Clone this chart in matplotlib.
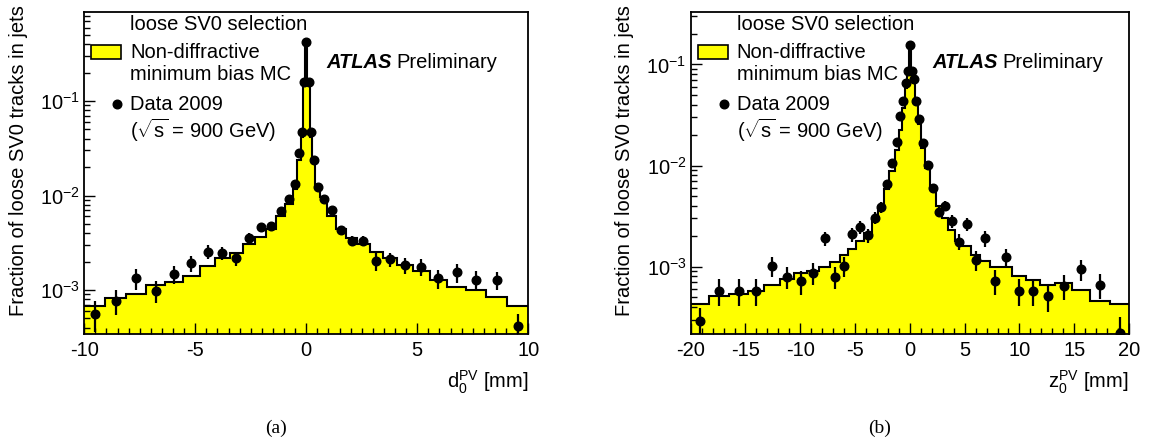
import matplotlib
matplotlib.use("Agg")
import matplotlib.pyplot as plt
import numpy as np
from matplotlib.patches import Rectangle
from matplotlib.lines import Line2D
from matplotlib.ticker import LogLocator, NullFormatter, MultipleLocator

plt.rcParams['font.family'] = ['Liberation Sans', 'DejaVu Sans']
plt.rcParams['mathtext.fontset'] = 'custom'
plt.rcParams['mathtext.rm'] = 'Liberation Sans'
plt.rcParams['mathtext.it'] = 'Liberation Sans:italic'
plt.rcParams['mathtext.bf'] = 'Liberation Sans:bold'

# ---------------- data: panel (a) d0 ----------------
d0_edges = [-10, -9.05, -8.1, -7.2, -6.35, -5.55, -4.8, -4.1, -3.45, -2.85, -2.3, -1.8,
            -1.35, -0.95, -0.62, -0.4, -0.25, -0.15, -0.05, 0.05, 0.15, 0.25, 0.4, 0.62,
            0.95, 1.35, 1.8, 2.3, 2.85, 3.45, 4.1, 4.8, 5.55, 6.35, 7.2, 8.1, 9.05, 10]
d0_mc = [6.8e-4, 8.2e-4, 9.1e-4, 1.12e-3, 1.21e-3, 1.42e-3, 1.81e-3, 2.16e-3, 2.48e-3,
         3.04e-3, 3.6e-3, 4.46e-3, 6.1e-3, 8.1e-3, 1.16e-2, 2.38e-2, 4.2e-2, 1.48e-1,
         4.2e-1,
         1.48e-1, 4.2e-2, 2.4e-2, 1.29e-2, 9.6e-3, 6.1e-3, 4.4e-3, 3.52e-3, 3.04e-3,
         2.54e-3, 2.16e-3, 1.84e-3, 1.6e-3, 1.28e-3, 1.08e-3, 1.0e-3, 8.5e-4, 6.8e-4]
d0_data = [5.57e-4, 7.7e-4, 1.33e-3, 9.8e-4, 1.48e-3, 1.92e-3, 2.54e-3, 2.48e-3, 2.16e-3,
           3.52e-3, 4.6e-3, 4.75e-3, 6.9e-3, 9.2e-3, 1.31e-2, 2.8e-2, 4.7e-2, 1.6e-1,
           4.2e-1,
           1.6e-1, 4.7e-2, 2.38e-2, 1.24e-2, 9.1e-3, 7.0e-3, 4.3e-3, 3.3e-3, 3.3e-3,
           2.03e-3, 2.11e-3, 1.84e-3, 1.77e-3, 1.33e-3, 1.54e-3, 1.28e-3, 1.28e-3, 4.19e-4]
d0_err = [2.0e-4, 2.3e-4, 3.3e-4, 2.6e-4, 3.1e-4, 3.8e-4, 4.3e-4, 4.0e-4, 3.7e-4,
          4.6e-4, 4.6e-4, 4.6e-4, 4.0e-4, 4.0e-4, 5e-4, 8e-4, 1.2e-3, 3e-3,
          5e-3,
          3e-3, 1.2e-3, 8e-4, 5e-4, 4e-4, 4e-4, 4.3e-4, 4e-4, 4e-4,
          4.3e-4, 3.6e-4, 3.5e-4, 3.5e-4, 3.1e-4, 3.4e-4, 3.1e-4, 2.8e-4, 1.4e-4]

# ---------------- data: panel (b) z0 ----------------
z0_edges = [-20, -18.3, -16.48, -14.79, -13.27, -11.88, -10.58, -9.36, -8.26, -7.3, -6.42,
            -5.62, -4.87, -4.15, -3.49, -2.89, -2.35, -1.86, -1.4, -1.0, -0.72, -0.48,
            -0.28, -0.1, 0.1, 0.28, 0.48, 0.72, 1.0, 1.4, 1.86, 2.35, 2.89, 3.49, 4.15,
            4.87, 5.62, 6.42, 7.3, 8.26, 9.36, 10.58, 11.88, 13.27, 14.79, 16.48, 18.3, 20]
z0_mc = [4.3e-4, 5.1e-4, 5.4e-4, 5.7e-4, 6.6e-4, 7.6e-4, 8.7e-4, 9.1e-4, 1.0e-3, 1.1e-3,
         1.3e-3, 1.5e-3, 1.8e-3, 2.14e-3, 2.9e-3, 3.7e-3, 5.8e-3, 8.9e-3, 1.42e-2,
         2.24e-2, 3.7e-2, 5.8e-2, 8.8e-2,
         1.55e-1,
         8.8e-2, 6.5e-2, 4.2e-2, 2.6e-2, 1.5e-2, 9.5e-3, 6.0e-3, 4.0e-3, 3.0e-3, 2.3e-3,
         1.8e-3, 1.6e-3, 1.3e-3, 1.15e-3, 1.0e-3, 1.0e-3, 8.0e-4, 7.3e-4, 6.6e-4, 6.9e-4,
         5.9e-4, 4.6e-4, 4.3e-4]
z0_data = [2.9e-4, 5.8e-4, 5.8e-4, 5.8e-4, 1.02e-3, 7.96e-4, 7.2e-4, 8.7e-4, 1.9e-3,
           7.96e-4, 1.02e-3, 2.1e-3, 2.48e-3, 2.04e-3, 3.05e-3, 3.86e-3, 6.56e-3, 1.07e-2,
           1.72e-2, 3.08e-2, 4.37e-2, 6.58e-2, 8.59e-2,
           1.55e-1,
           8.59e-2, 7.11e-2, 4.37e-2, 2.86e-2, 1.66e-2, 1.01e-2, 6.0e-3, 3.5e-3, 3.98e-3,
           2.83e-3, 1.77e-3, 2.64e-3, 1.16e-3, 1.9e-3, 7.2e-4, 1.24e-3, 5.8e-4, 5.8e-4,
           5.13e-4, 6.45e-4, 9.4e-4, 6.6e-4, 2.2e-4]
z0_err = [1.0e-4, 1.7e-4, 1.7e-4, 1.7e-4, 2.3e-4, 2.0e-4, 1.9e-4, 2.1e-4, 3.0e-4, 2.0e-4,
          2.3e-4, 3.3e-4, 3.6e-4, 3.3e-4, 4.0e-4, 4.6e-4, 6e-4, 8e-4, 1e-3, 1.4e-3,
          1.7e-3, 2.2e-3, 2.6e-3,
          4e-3,
          2.6e-3, 2.4e-3, 1.7e-3, 1.3e-3, 9e-4, 7e-4, 5.5e-4, 4.2e-4, 4.6e-4, 4.0e-4,
          3.1e-4, 3.9e-4, 2.6e-4, 3.4e-4, 2.0e-4, 2.6e-4, 1.7e-4, 1.7e-4, 1.6e-4, 1.8e-4,
          2.2e-4, 1.8e-4, 1.0e-4]

ylabel = "Fraction of loose SV0 tracks in jets"
legend_lines = ["loose SV0 selection", "Non-diffractive", "minimum bias MC",
                "Data 2009", r"($\sqrt{\mathrm{s}}$ = 900 GeV)"]

# ---------------- figure ----------------
W, H = 1149, 445
fig = plt.figure(figsize=(W / 100, H / 100), dpi=100)
FS = 14.5


def fx(x):
    return x / W


def fy(y):
    return 1 - y / H


def panel(left_px, right_px, edges, mc, data, err, xlim, ylim, xmajor, xminor,
          xlabel, sub, sub_x):
    top_px, bot_px = 12.3, 334
    ax = fig.add_axes([fx(left_px), fy(bot_px), fx(right_px - left_px),
                       (bot_px - top_px) / H])
    ax.set_yscale('log')
    edges = np.asarray(edges)
    centers = 0.5 * (edges[:-1] + edges[1:])
    ax.stairs(mc, edges, fill=True, baseline=1e-7, facecolor='#ffff00',
              edgecolor='none', zorder=1)
    ax.stairs(mc, edges, baseline=None, color='black', lw=1.5, zorder=2)
    ax.errorbar(centers, data, yerr=err, fmt='o', color='black', ms=6.2,
                elinewidth=1.6, capsize=0, zorder=3)
    ax.set_xlim(*xlim)
    ax.set_ylim(*ylim)
    ax.xaxis.set_major_locator(MultipleLocator(xmajor))
    ax.xaxis.set_minor_locator(MultipleLocator(xminor))
    ax.yaxis.set_major_locator(LogLocator(base=10, numticks=10))
    ax.yaxis.set_minor_locator(LogLocator(base=10, subs=np.arange(2, 10), numticks=20))
    ax.yaxis.set_minor_formatter(NullFormatter())
    ax.tick_params(which='both', direction='in', top=False, right=False,
                   labelsize=FS, width=1.0, color='black')
    ax.tick_params(which='major', length=8)
    ax.tick_params(which='minor', length=4.2)
    ax.tick_params(axis='x', pad=5)
    ax.tick_params(axis='y', pad=3)
    for s in ax.spines.values():
        s.set_linewidth(1.3)
    ax.xaxis.set_major_formatter(matplotlib.ticker.FuncFormatter(lambda v, p: f"{v:g}"))

    # axis titles
    fig.text(fx(right_px), fy(382), xlabel, ha='right', va='center', fontsize=FS)
    fig.text(fx(left_px - 66), fy(5), ylabel, rotation=90, ha='center', va='top',
             fontsize=FS)
    fig.text(fx(sub_x), fy(428), sub, ha='center', va='center', fontsize=14,
             family='Liberation Serif')

    # legend
    tx = left_px + 46
    fig.text(fx(tx), fy(24), legend_lines[0], ha='left', va='center', fontsize=FS)
    fig.add_artist(Rectangle((fx(left_px + 7), fy(58.5)), fx(30), 13.5 / H,
                             facecolor='#ffff00', edgecolor='black', lw=1.2,
                             transform=fig.transFigure))
    fig.text(fx(tx), fy(52), legend_lines[1], ha='left', va='center', fontsize=FS)
    fig.text(fx(tx), fy(75), legend_lines[2], ha='left', va='center', fontsize=FS)
    fig.add_artist(Line2D([fx(left_px + 33)], [fy(104)], marker='o', color='black',
                          ms=6.2, transform=fig.transFigure))
    fig.text(fx(tx), fy(104), legend_lines[3], ha='left', va='center', fontsize=FS)
    fig.text(fx(tx), fy(130), legend_lines[4], ha='left', va='center', fontsize=FS)

    # ATLAS label
    fig.text(fx(left_px + 242), fy(63), "ATLAS", ha='left', va='center',
             fontsize=FS, fontweight='bold', fontstyle='italic')
    fig.text(fx(left_px + 312), fy(63), "Preliminary", ha='left', va='center',
             fontsize=FS)
    return ax


panel(84.3, 528.3, d0_edges, d0_mc, d0_data, d0_err, (-10, 10), (3.42e-4, 0.87),
      5, 0.5, r"$\mathrm{d}_{0}^{\mathrm{PV}}$ [mm]", "(a)", 276)
panel(690.7, 1129, z0_edges, z0_mc, z0_data, z0_err, (-20, 20), (2.16e-4, 0.327),
      5, 1, r"$\mathrm{z}_{0}^{\mathrm{PV}}$ [mm]", "(b)", 880)

fig.savefig("out.png", dpi=100)
